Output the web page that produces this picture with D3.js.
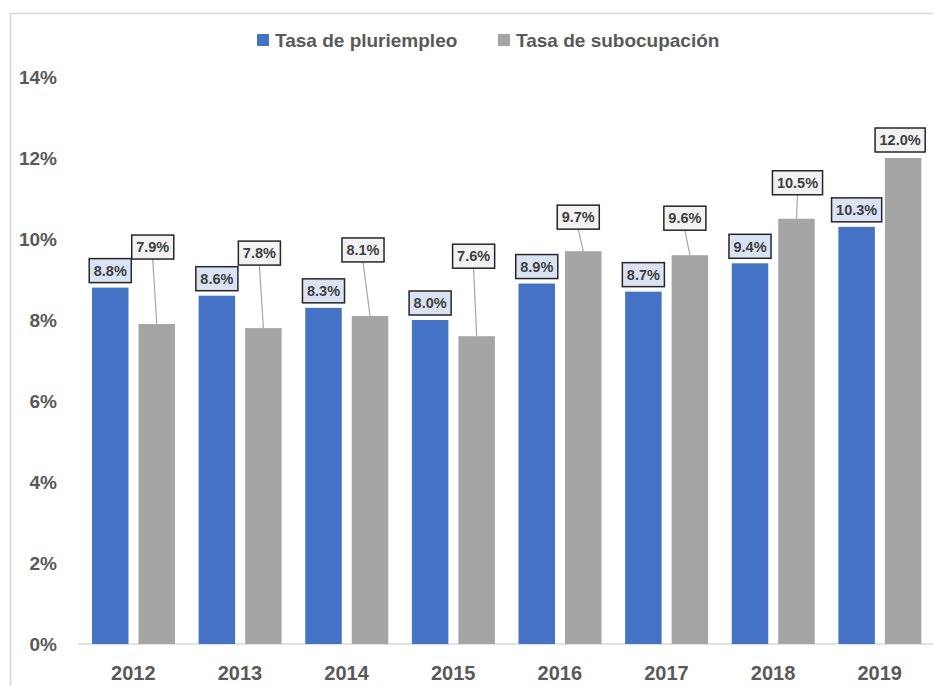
<!DOCTYPE html>
<html>
<head>
<meta charset="utf-8">
<script src="https://cdn.jsdelivr.net/npm/d3@7"></script>
<style>
  body { margin: 0; background: #fff; }
  text { font-family: "Liberation Sans", Arial, sans-serif; font-weight: bold; }
</style>
</head>
<body>
<div id="chart"></div>
<script>
const years = ["2012", "2013", "2014", "2015", "2016", "2017", "2018", "2019"];
const seriesNames = ["Tasa de pluriempleo", "Tasa de subocupación"];
const pluriempleo = [0.088, 0.086, 0.083, 0.080, 0.089, 0.087, 0.094, 0.103];
const subocupacion = [0.079, 0.078, 0.081, 0.076, 0.097, 0.096, 0.105, 0.120];
const yTicks = [0, 0.02, 0.04, 0.06, 0.08, 0.10, 0.12, 0.14];

// how far the grey labels sit above their bars (px) and their sideways shift
const subLift = [65, 63, 54, 68, 22, 25, 24, 6];
const subShift = [-4, -4, -7, -3, -5, -5, 1, -3];

const colors = ["#4472c4", "#a5a5a5"];
const W = 933, H = 686;

const svg = d3.select("#chart").append("svg")
    .attr("width", W)
    .attr("height", H);

// outer frame of the chart area
svg.append("rect")
    .attr("x", 10.5).attr("y", 13.5)
    .attr("width", W + 20).attr("height", H + 20)
    .attr("fill", "none")
    .attr("stroke", "#d9d9d9")
    .attr("stroke-width", 1.5);

const x0 = d3.scaleBand().domain(years).range([80, 933]);
const x1 = d3.scaleBand().domain(seriesNames).range([12, 95]).paddingInner(0.215);
const y = d3.scaleLinear().domain([0, 0.14]).range([644, 77]);

// y axis labels
const yAxis = d3.axisLeft(y).tickValues(yTicks).tickFormat(d3.format(".0%")).tickSize(0).tickPadding(0);
const yg = svg.append("g").attr("transform", "translate(57,0)").call(yAxis);
yg.select(".domain").remove();
yg.selectAll("text")
    .attr("fill", "#595959")
    .style("font-size", "19px")
    .attr("dy", "0.36em");

// baseline
svg.append("line")
    .attr("x1", 78).attr("x2", W)
    .attr("y1", y(0)).attr("y2", y(0))
    .attr("stroke", "#d9d9d9")
    .attr("stroke-width", 1.5);

// x axis labels
const xAxis = d3.axisBottom(x0).tickSize(0).tickPadding(0);
const xg = svg.append("g").attr("transform", `translate(0,${y(0)})`).call(xAxis);
xg.select(".domain").remove();
xg.selectAll("text")
    .attr("fill", "#595959")
    .style("font-size", "20px")
    .attr("y", 29)
    .attr("dy", "0.36em");

const rows = years.map((yr, i) => ({ year: yr, i: i, vals: [pluriempleo[i], subocupacion[i]] }));

const groups = svg.selectAll("g.year")
    .data(rows)
    .enter()
    .append("g")
    .attr("class", "year")
    .attr("transform", d => `translate(${x0(d.year)},0)`);

groups.selectAll("rect")
    .data(d => d.vals.map((v, k) => ({ name: seriesNames[k], v: v, k: k })))
    .enter()
    .append("rect")
    .attr("x", d => x1(d.name))
    .attr("y", d => y(d.v))
    .attr("width", x1.bandwidth())
    .attr("height", d => y(0) - y(d.v))
    .attr("fill", d => colors[d.k]);

// data labels
const fmt = d3.format(".1%");
const boxH = 24;

function labelBox(g, cx, cy, txt, fill) {
    const t = g.append("text")
        .attr("x", cx)
        .attr("y", cy)
        .attr("text-anchor", "middle")
        .attr("dy", "0.36em")
        .attr("fill", "#404040")
        .style("font-size", "14.5px")
        .text(txt);
    const w = t.node().getComputedTextLength() + 9;
    g.insert("rect", "text")
        .attr("x", cx - w / 2)
        .attr("y", cy - boxH / 2)
        .attr("width", w)
        .attr("height", boxH)
        .attr("fill", fill)
        .attr("stroke", "#262626")
        .attr("stroke-width", 1.5);
}

rows.forEach(d => {
    const g = svg.append("g").attr("transform", `translate(${x0(d.year)},0)`);
    // blue label right above its bar
    const bx = x1(seriesNames[0]) + x1.bandwidth() / 2;
    labelBox(g, bx, y(d.vals[0]) - 5 - boxH / 2, fmt(d.vals[0]), "#dae3f3");
    // grey label lifted with a leader line
    const gx = x1(seriesNames[1]) + x1.bandwidth() / 2;
    const top = y(d.vals[1]);
    const lx = gx + subShift[d.i];
    const ly = top - subLift[d.i] - boxH / 2;
    if (subLift[d.i] > 10) {
        g.append("line")
            .attr("x1", lx).attr("y1", ly + boxH / 2)
            .attr("x2", gx).attr("y2", top)
            .attr("stroke", "#a6a6a6")
            .attr("stroke-width", 1.2);
    }
    const lg = g.append("g");
    labelBox(lg, lx, ly, fmt(d.vals[1]), "#f2f2f2");
});

// legend
const legend = svg.append("g").attr("class", "legend");
const legendX = [257, 498];
seriesNames.forEach((n, k) => {
    legend.append("rect")
        .attr("x", legendX[k]).attr("y", 34)
        .attr("width", 12).attr("height", 12)
        .attr("fill", colors[k]);
    legend.append("text")
        .attr("x", legendX[k] + 18).attr("y", 40)
        .attr("dy", "0.36em")
        .attr("fill", "#595959")
        .style("font-size", "19px")
        .text(n);
});
</script>
</body>
</html>
